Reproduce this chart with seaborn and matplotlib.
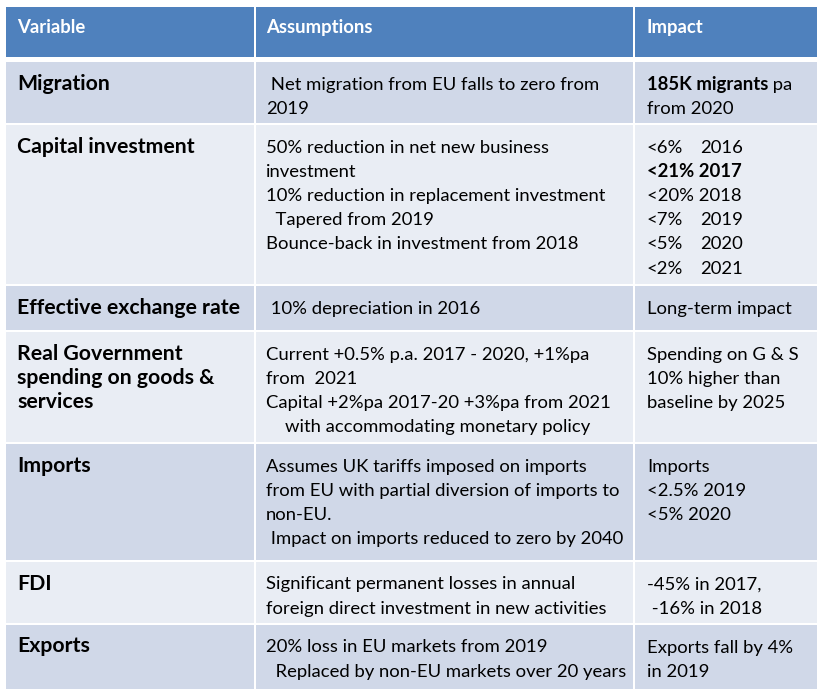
import matplotlib.pyplot as plt
import seaborn as sns
from matplotlib.patches import Rectangle

# ---- table content ----
HEADERS = ["Variable", "Assumptions", "Impact"]

VARIABLES = [
    ["Migration"],
    ["Capital investment"],
    ["Effective exchange rate"],
    ["Real Government", "spending on goods &", "services"],
    ["Imports"],
    ["FDI"],
    ["Exports"],
]

ASSUMPTIONS = [
    [" Net migration from EU falls to zero from", "2019"],
    ["50% reduction in net new business", "investment",
     "10% reduction in replacement investment", "  Tapered from 2019",
     "Bounce-back in investment from 2018"],
    [" 10% depreciation in 2016"],
    ["Current +0.5% p.a. 2017 - 2020, +1%pa", "from  2021",
     "Capital +2%pa 2017-20 +3%pa from 2021",
     "    with accommodating monetary policy"],
    ["Assumes UK tariffs imposed on imports",
     "from EU with partial diversion of imports to", "non-EU.",
     " Impact on imports reduced to zero by 2040"],
    ["Significant permanent losses in annual",
     "foreign direct investment in new activities"],
    ["20% loss in EU markets from 2019",
     "  Replaced by non-EU markets over 20 years"],
]

# '**' toggles bold, '\t' jumps to the year tab stop
IMPACTS = [
    ["**185K migrants** pa", "from 2020"],
    ["<6%\t2016", "**<21% 2017**", "<20% 2018", "<7%\t2019",
     "<5%\t2020", "<2%\t2021"],
    ["Long-term impact"],
    ["Spending on G & S", "10% higher than", "baseline by 2025"],
    ["Imports", "<2.5% 2019", "<5% 2020"],
    ["-45% in 2017,", " -16% in 2018"],
    ["Exports fall by 4%", "in 2019"],
]

# ---- layout (pixels) ----
W, H = 824, 694
COL_EDGES = [(6, 254), (256, 633), (635, 817)]
TEXT_X = [17, 266, 647]
TAB_OFFSET = 53
HEADER_SPAN = (7, 57)
ROW_SPANS = [(62, 123), (125, 284), (286, 330), (332, 442),
             (444, 560), (562, 623), (625, 689)]
LINE_STEP = 24.2
BASELINE_PAD = 27.5

BODY_SIZE = 13.3
VAR_SIZE = 15.3
HEAD_SIZE = 13.3

HEADER_BLUE = "#4F81BD"
ROW_DARK = "#D0D8E8"
ROW_LIGHT = "#E9EDF4"

sns.set_theme(style="white")
plt.rcParams['font.family'] = ['Lato', 'DejaVu Sans']

fig = plt.figure(figsize=(W / 100, H / 100), dpi=100)
ax = fig.add_axes([0, 0, 1, 1])
ax.set_xlim(0, W)
ax.set_ylim(H, 0)
ax.axis('off')
renderer = fig.canvas.get_renderer()


def draw_rich(x, y, s, size, color='black'):
    """Draw a line where '**' toggles bold and '\\t' jumps to tab stop"""
    start_x = x
    bold = False
    for t_idx, part in enumerate(s.split('\t')):
        if t_idx > 0:
            x = start_x + TAB_OFFSET
        for k, seg in enumerate(part.split('**')):
            if k > 0:
                bold = not bold
            if seg:
                t = ax.text(x, y, seg, fontsize=size, color=color,
                            fontweight='bold' if bold else 'normal',
                            ha='left', va='baseline')
                x += t.get_window_extent(renderer).width
    return x


def cell(col, top, bottom, color):
    x0, x1 = COL_EDGES[col]
    ax.add_patch(Rectangle((x0, top), x1 - x0, bottom - top,
                           facecolor=color, edgecolor='none'))


# header
for c, name in enumerate(HEADERS):
    cell(c, HEADER_SPAN[0], HEADER_SPAN[1], HEADER_BLUE)
    ax.text(TEXT_X[c], HEADER_SPAN[0] + 26, name, fontsize=HEAD_SIZE,
            fontweight='bold', color='white', ha='left', va='baseline')

# body rows
for r, (top, bottom) in enumerate(ROW_SPANS):
    fill = ROW_DARK if r % 2 == 0 else ROW_LIGHT
    for c in range(3):
        cell(c, top, bottom, fill)
    base = top + BASELINE_PAD
    for i, line in enumerate(VARIABLES[r]):
        ax.text(TEXT_X[0], base + i * LINE_STEP, line, fontsize=VAR_SIZE,
                fontweight='bold', color='black', ha='left', va='baseline')
    for i, line in enumerate(ASSUMPTIONS[r]):
        draw_rich(TEXT_X[1], base + i * LINE_STEP, line, BODY_SIZE)
    for i, line in enumerate(IMPACTS[r]):
        draw_rich(TEXT_X[2], base + i * LINE_STEP, line, BODY_SIZE)

fig.savefig("out.png", dpi=100)
